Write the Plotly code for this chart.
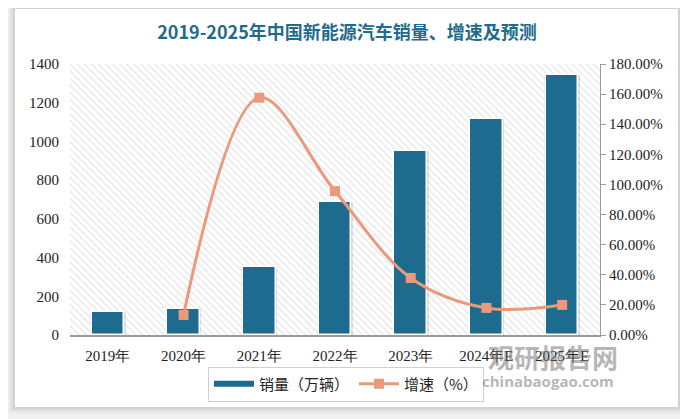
import plotly.graph_objects as go

categories = ["2019年", "2020年", "2021年", "2022年", "2023年", "2024年E", "2025年E"]
sales = [120.6, 136.7, 352.1, 688.7, 949.5, 1115, 1342]
growth = [None, 0.1335, 1.5757, 0.956, 0.379, 0.180, 0.200]

Y_MAX = 1400
Y2_MAX = 1.8
n = len(categories)
xs = list(range(n))

TITLE = "2019-2025年中国新能源汽车销量、增速及预测"
BAR_NAME = "销量（万辆）"
LINE_NAME = "增速（%）"
BAR_COLOR = "#1d6b8f"
LINE_COLOR = "#ea9a7b"
SERIF = "Times New Roman, Liberation Serif, serif"
CJK = "Noto Sans CJK SC"

# the page body adds an 8px offset; work in reference-window pixels
OFF = 8
WIN_W, WIN_H = 688, 419
PLOT_L, PLOT_R, PLOT_T, PLOT_B = 70, 600, 64, 335
W, H = WIN_W - OFF, WIN_H - OFF
L, T = PLOT_L - OFF, PLOT_T - OFF
R, B = WIN_W - PLOT_R, WIN_H - PLOT_B
pw, ph = PLOT_R - PLOT_L, PLOT_B - PLOT_T


def px_to_paper_x(px):
    return (px - PLOT_L) / pw


def px_to_paper_y(py):
    return (PLOT_B - py) / ph


fig = go.Figure()

# hatched plot-area background
fig.add_trace(go.Bar(
    x=[(n - 1) / 2], y=[Y_MAX], width=[n],
    marker=dict(color="white", line=dict(width=0),
                pattern=dict(shape="\\", fgcolor="#d2d2d2", bgcolor="white", size=5, solidity=0.3)),
    hoverinfo="skip", showlegend=False,
))

# soft bar shadow
fig.add_trace(go.Bar(
    x=xs, y=sales, width=0.47,
    marker=dict(color="rgba(0,0,0,0.10)", line=dict(width=0)),
    hoverinfo="skip", showlegend=False,
))

fig.add_trace(go.Bar(
    x=xs, y=sales, width=0.43, name=BAR_NAME, showlegend=False,
    marker=dict(color=BAR_COLOR, line=dict(color="white", width=1.5)),
))

# legend entry drawn as a thick bar stroke, like the reference
fig.add_trace(go.Scatter(
    x=[None], y=[None], mode="lines", name=BAR_NAME,
    line=dict(color=BAR_COLOR, width=6),
))

fig.add_trace(go.Scatter(
    x=xs, y=growth, yaxis="y2", name=LINE_NAME,
    mode="lines+markers",
    line=dict(color=LINE_COLOR, width=3, shape="spline", smoothing=1.0),
    marker=dict(symbol="square", size=10, color=LINE_COLOR),
    connectgaps=False,
))

shapes = []
for i, op in enumerate([0.03, 0.04, 0.05]):
    d = 6 - 2 * i
    shapes.append(dict(type="rect", xref="paper", yref="paper", layer="below",
                       x0=px_to_paper_x(15 - d), x1=px_to_paper_x(678 + d),
                       y0=px_to_paper_y(407 + d), y1=px_to_paper_y(9 - d),
                       fillcolor=f"rgba(0,0,0,{op})", line=dict(width=0)))
shapes.append(dict(type="rect", xref="paper", yref="paper", layer="below",
                   x0=px_to_paper_x(15), x1=px_to_paper_x(678),
                   y0=px_to_paper_y(407), y1=px_to_paper_y(9),
                   fillcolor="white", line=dict(width=0)))

annotations = [
    dict(text="<b>观研报告网</b>", xref="paper", yref="paper",
         x=px_to_paper_x(553), y=px_to_paper_y(356), xanchor="center", yanchor="middle",
         showarrow=False,
         font=dict(family=CJK, size=26, color="rgba(110,110,110,0.5)")),
    dict(text="<b>chinabaogao.com</b>", xref="paper", yref="paper",
         x=px_to_paper_x(548), y=px_to_paper_y(381), xanchor="center", yanchor="middle",
         showarrow=False,
         font=dict(family="Open Sans", size=15, color="rgba(110,110,110,0.5)")),
]

fig.update_layout(
    width=W, height=H,
    margin=dict(l=L, r=R, t=T, b=B, autoexpand=False),
    paper_bgcolor="#f0f0f0",
    plot_bgcolor="rgba(0,0,0,0)",
    barmode="overlay",
    bargap=0,
    title=dict(text="<b>" + TITLE + "</b>", x=px_to_paper_x(347), xref="paper", xanchor="center",
               y=1 - (33 - OFF) / H, yanchor="middle",
               font=dict(family=CJK, size=18, color="#1f6b8c")),
    xaxis=dict(range=[-0.5, n - 0.5], tickvals=xs, ticktext=categories,
               showgrid=False, zeroline=False, showline=True, linecolor="#9a9a9a", linewidth=1.5,
               ticks="", tickfont=dict(family=SERIF, size=15, color="#222"), ticklabelstandoff=6),
    yaxis=dict(range=[0, Y_MAX], dtick=200, showgrid=False, zeroline=False, showline=False,
               ticks="", tickfont=dict(family=SERIF, size=15, color="#222"), ticklabelstandoff=10),
    yaxis2=dict(range=[0, Y2_MAX], dtick=0.2, tickformat=".2%", overlaying="y", side="right",
                showgrid=False, zeroline=False, showline=True, linecolor="#9a9a9a", linewidth=1,
                ticks="outside", ticklen=5, tickcolor="#9a9a9a",
                tickfont=dict(family=SERIF, size=15, color="#222")),
    legend=dict(orientation="h", x=px_to_paper_x(346), xanchor="center",
                y=px_to_paper_y(384), yanchor="middle",
                bordercolor="#d0d0d0", borderwidth=1, bgcolor="white",
                font=dict(family=CJK, size=15, color="#222"), itemwidth=40),
    shapes=shapes,
    annotations=annotations,
    showlegend=True,
)

fig.write_html("out.html")
